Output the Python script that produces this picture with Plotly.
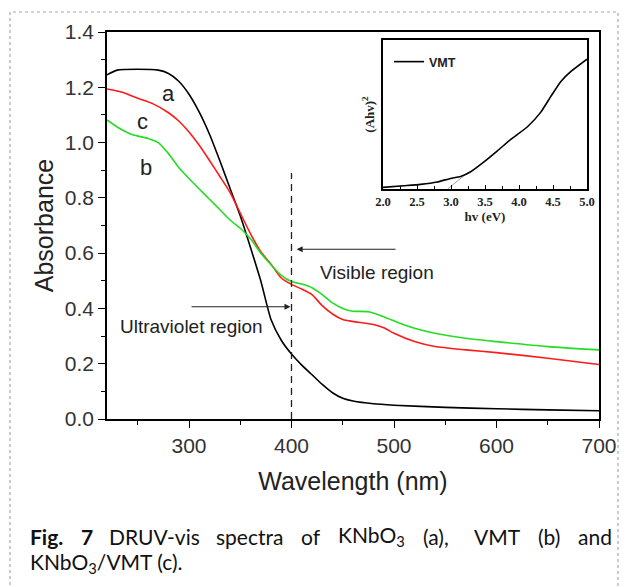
import plotly.graph_objects as go

# ---------------- data ----------------
wl_a = [220, 230, 250, 270, 280, 290, 300, 310, 320, 330, 340, 350, 360, 370, 380, 390,
        400, 410, 420, 430, 440, 450, 460, 480, 500, 550, 600, 650, 700]
abs_a = [1.245, 1.262, 1.265, 1.262, 1.250, 1.222, 1.175, 1.110, 1.030, 0.935, 0.835, 0.735,
         0.620, 0.500, 0.360, 0.285, 0.235, 0.195, 0.160, 0.125, 0.095, 0.075, 0.065, 0.055,
         0.050, 0.042, 0.037, 0.033, 0.030]

wl_c = [220, 235, 250, 265, 280, 290, 300, 310, 320, 330, 340, 350, 360, 370, 380, 390, 400,
        410, 420, 430, 440, 450, 465, 480, 490, 500, 520, 540, 570, 600, 650, 700]
abs_c = [1.194, 1.182, 1.160, 1.140, 1.108, 1.078, 1.038, 0.990, 0.935, 0.878, 0.820, 0.745,
         0.670, 0.605, 0.560, 0.510, 0.487, 0.470, 0.450, 0.410, 0.380, 0.360, 0.350, 0.342,
         0.330, 0.310, 0.280, 0.262, 0.250, 0.240, 0.220, 0.197]

wl_b = [220, 232, 245, 260, 270, 280, 290, 300, 310, 320, 330, 340, 350, 360, 370, 380, 390,
        400, 410, 420, 430, 440, 450, 460, 475, 490, 505, 520, 540, 570, 600, 650, 700]
abs_b = [1.082, 1.052, 1.028, 1.015, 1.000, 0.960, 0.910, 0.870, 0.832, 0.795, 0.758, 0.720,
         0.690, 0.652, 0.600, 0.558, 0.520, 0.497, 0.488, 0.475, 0.450, 0.420, 0.400, 0.390,
         0.388, 0.370, 0.347, 0.328, 0.310, 0.292, 0.280, 0.262, 0.250]

# inset: Tauc plot of VMT
hv = [2.0, 2.305, 2.551, 2.797, 2.993, 3.141, 3.289, 3.485, 3.682, 3.879, 4.125, 4.321,
      4.469, 4.616, 4.764, 5.0]
ahv2 = [0.011, 0.022, 0.031, 0.047, 0.071, 0.084, 0.116, 0.182, 0.256, 0.333, 0.418, 0.516,
        0.622, 0.722, 0.789, 0.871]
tangent_x = [2.95, 3.22]
tangent_y = [0.0, 0.10]

x_ticks = [300, 400, 500, 600, 700]
y_ticks = [0.0, 0.2, 0.4, 0.6, 0.8, 1.0, 1.2, 1.4]
inset_ticks = [2.0, 2.5, 3.0, 3.5, 4.0, 4.5, 5.0]

# ---------------- layout helpers ----------------
W, H = 628, 587
L, R, T, B = 107, 599, 32, 419


def pxx(p):
    return (p - L) / (R - L)


def pxy(p):
    return (B - p) / (B - T)


fig = go.Figure()

fig.add_trace(go.Scatter(x=wl_a, y=abs_a, mode="lines", line=dict(color="black", width=1.6, shape="spline", smoothing=0.6),
                         showlegend=False, hoverinfo="skip"))
fig.add_trace(go.Scatter(x=wl_c, y=abs_c, mode="lines", line=dict(color="#ff1a1a", width=1.6, shape="spline", smoothing=0.6),
                         showlegend=False, hoverinfo="skip"))
fig.add_trace(go.Scatter(x=wl_b, y=abs_b, mode="lines", line=dict(color="#22dd22", width=1.6, shape="spline", smoothing=0.6),
                         showlegend=False, hoverinfo="skip"))

# inset traces
fig.add_trace(go.Scatter(x=tangent_x, y=tangent_y, mode="lines", xaxis="x2", yaxis="y2",
                         line=dict(color="#888888", width=0.8), showlegend=False, hoverinfo="skip"))
fig.add_trace(go.Scatter(x=hv, y=ahv2, mode="lines", xaxis="x2", yaxis="y2", name="VMT",
                         line=dict(color="black", width=1.6, shape="spline", smoothing=0.5),
                         showlegend=True, hoverinfo="skip"))

SANS = "Liberation Sans, Arial"
SERIF = "Liberation Serif, Times New Roman"
tickfont = dict(family=SANS, size=21, color="#333333")
fig.update_layout(
    width=W, height=H,
    margin=dict(l=L, r=W - R, t=T, b=H - B),
    paper_bgcolor="white", plot_bgcolor="white",
    xaxis=dict(range=[220, 700], tickvals=x_ticks, ticks="outside", ticklen=7, tickwidth=1.3,
               tickcolor="black", showline=True, linecolor="black", linewidth=1.5, mirror=True,
               showgrid=False, zeroline=False, tickfont=tickfont,
               minor=dict(tickvals=[250, 350, 450, 550, 650], ticks="outside", ticklen=4,
                          tickwidth=1.2, tickcolor="black", showgrid=False),
               title=dict(text="Wavelength (nm)", font=dict(family=SANS, size=25, color="#222"),
                          standoff=17)),
    yaxis=dict(range=[0, 1.4], tickvals=y_ticks, tickformat=".1f", ticks="outside", ticklen=7,
               tickwidth=1.3, tickcolor="black", showline=True, linecolor="black", linewidth=1.5,
               mirror=True, showgrid=False, zeroline=False, tickfont=tickfont,
               minor=dict(tickvals=[0.1, 0.3, 0.5, 0.7, 0.9, 1.1, 1.3], ticks="outside", ticklen=4,
                          tickwidth=1.2, tickcolor="black", showgrid=False),
               title=dict(text="Absorbance", font=dict(family=SANS, size=25, color="#222"),
                          standoff=4)),
    xaxis2=dict(domain=[pxx(383), pxx(587)], anchor="y2", range=[2.0, 5.0], tickvals=inset_ticks,
                tickformat=".1f", ticks="inside", ticklen=4, tickwidth=1.2, tickcolor="black",
                showline=True, linecolor="black", linewidth=1.5, mirror=True, showgrid=False,
                zeroline=False,
                tickfont=dict(family=SERIF, size=12.5, color="#222", weight="bold"),
                minor=dict(tickvals=[2.25, 2.75, 3.25, 3.75, 4.25, 4.75], ticks="inside", ticklen=3,
                           tickwidth=1, tickcolor="black"),
                title=dict(text="hv (eV)", font=dict(family=SERIF, size=13, color="#222", weight="bold"),
                           standoff=2)),
    yaxis2=dict(domain=[pxy(189), pxy(40)], anchor="x2", range=[0, 1], showticklabels=False,
                ticks="", showline=True, linecolor="black", linewidth=1.5, mirror=True,
                showgrid=False, zeroline=False,
                title=dict(text="(Ahv)<sup>2</sup>", font=dict(family=SERIF, size=13, color="#222",
                                                               weight="bold"), standoff=4)),
    legend=dict(x=pxx(389), y=pxy(47), xanchor="left", yanchor="top", bgcolor="rgba(0,0,0,0)",
                font=dict(family=SANS, size=12.5, color="#222", weight="bold"),
                itemwidth=30, tracegroupgap=0),
    showlegend=True,
)

# dashed divider at 400 nm
fig.add_shape(type="line", x0=400, x1=400, y0=0, y1=0.89, xref="x", yref="y",
              line=dict(color="#222", width=1.3, dash="7px,5px"))

# region arrows
fig.add_annotation(x=405, y=0.614, ax=503, ay=0.614, xref="x", yref="y", axref="x", ayref="y",
                   showarrow=True, arrowhead=2, arrowsize=1, arrowwidth=1.2, arrowcolor="#222", text="")
fig.add_annotation(x=399, y=0.406, ax=301, ay=0.406, xref="x", yref="y", axref="x", ayref="y",
                   showarrow=True, arrowhead=2, arrowsize=1, arrowwidth=1.2, arrowcolor="#222", text="")
fig.add_annotation(x=483, y=0.529, text="Visible region", showarrow=False,
                   font=dict(family=SANS, size=19, color="#222"))
fig.add_annotation(x=302, y=0.333, text="Ultraviolet region", showarrow=False,
                   font=dict(family=SANS, size=19, color="#222"))

# curve labels
for lab, xx, yy in [("a", 280, 1.178), ("c", 255, 1.078), ("b", 258, 0.91)]:
    fig.add_annotation(x=xx, y=yy, text=lab, showarrow=False,
                       font=dict(family=SANS, size=22, color="#222"))

# caption (justified first line, placed word by word)
cap_font = dict(family="Lato, Open Sans", size=21, color="#111")
line1 = [("<b>Fig.</b>", 28), ("<b>7</b>", 79), ("DRUV-vis", 107), ("spectra", 214), ("of", 299),
         ("KNbO<sub>3</sub>", 336), ("(a),", 421), ("VMT", 472), ("(b)", 536), ("and", 576)]
for txt, xp in line1:
    fig.add_annotation(x=pxx(xp), y=pxy(536), xref="paper", yref="paper", text=txt, showarrow=False,
                       xanchor="left", yanchor="middle", font=cap_font)
fig.add_annotation(x=pxx(28), y=pxy(563), xref="paper", yref="paper", text="KNbO<sub>3</sub>/VMT (c).",
                   showarrow=False, xanchor="left", yanchor="middle", font=cap_font)

# dotted page border
fig.add_shape(type="rect", xref="paper", yref="paper", x0=pxx(10), x1=pxx(618), y0=pxy(620), y1=pxy(12),
              line=dict(color="#aaaaaa", width=1.2, dash="dot"), layer="below")

fig.write_html("out.html", config={"displayModeBar": False},
               post_script="document.body.style.margin='0px';")
